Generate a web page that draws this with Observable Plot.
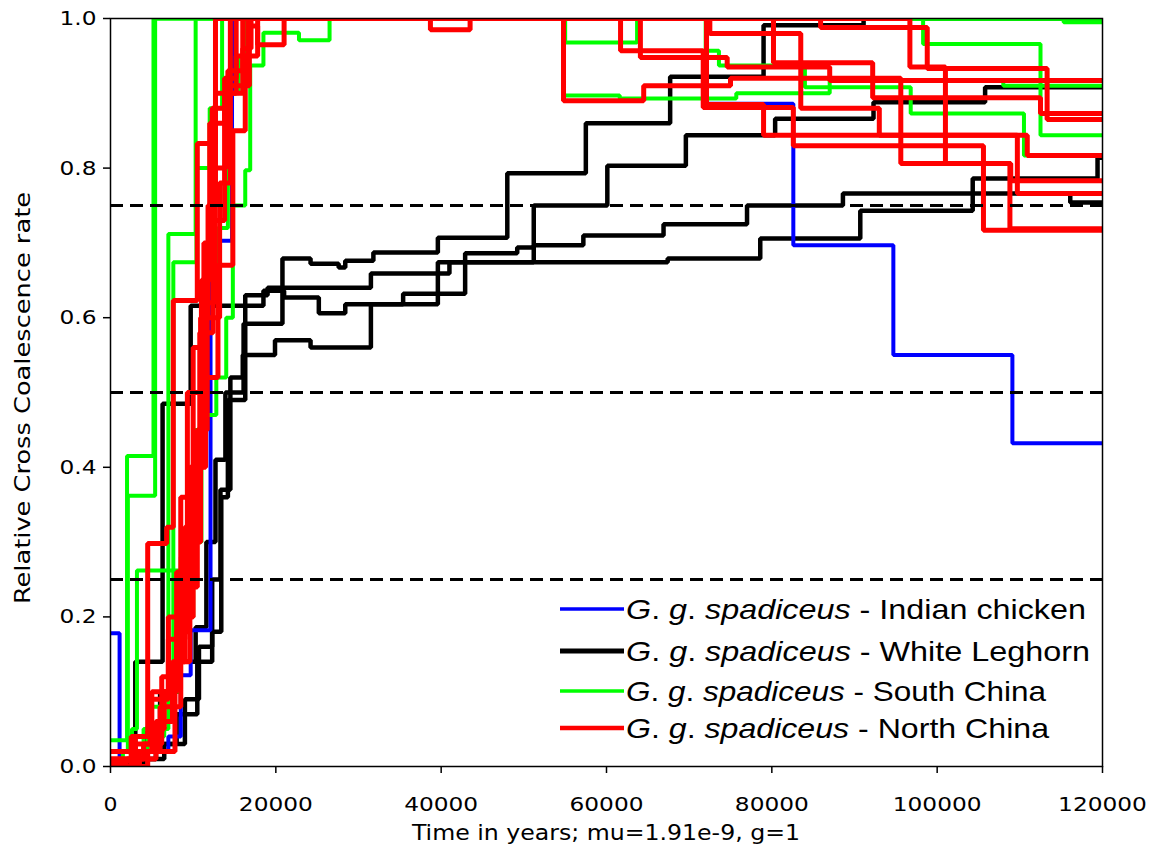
<!DOCTYPE html>
<html>
<head>
<meta charset="utf-8">
<script src="https://cdn.jsdelivr.net/npm/d3@7"></script>
<script src="https://cdn.jsdelivr.net/npm/@observablehq/plot@0.6"></script>
<style>
  body { margin: 0; background: #fff; }
  #chart { position: relative; width: 1164px; height: 852px; }
  #legend { position: absolute; left: 0; top: 0; pointer-events: none; }
</style>
</head>
<body>
<div id="chart"></div>
<script>
// Axis ticks and reference levels
const xTicks = [0, 20000, 40000, 60000, 80000, 100000, 120000];
const yTicks = [0, 0.2, 0.4, 0.6, 0.8, 1.0];
const thresholds = [0.25, 0.5, 0.75];
const tMax = 120000;

// Relative cross-coalescence rate step curves: [time in years, rate]
const indianChicken = [
  [[0,0.178],[1100,0.01],[4500,0.02],[7000,0.04],[8500,0.122],[9700,0.182],[12100,0.703],[14700,1.0],[72100,0.886],[82600,0.697],[94700,0.55],[109100,0.432]]
];

const whiteLeghorn = [
  [[0,0],[2400,0.01],[4200,0.05],[6000,0.10],[8500,0.14],[10300,0.186],[11600,0.30],[12700,0.41],[13900,0.50],[16100,0.592],[20800,0.679],[24200,0.672],[27600,0.667],[28400,0.676],[31800,0.687],[39600,0.707],[48000,0.793],[57500,0.86],[67700,0.922],[79000,0.991],[91100,1.0]],
  [[0,0],[1500,0.005],[3000,0.14],[6300,0.485],[9700,0.616],[18500,0.636],[21000,0.627],[25200,0.606],[28400,0.618],[35400,0.632],[42900,0.686],[49200,0.694],[51200,0.75],[60100,0.803],[69600,0.844],[80400,0.866],[92300,0.888],[105800,0.908]],
  [[0,0],[3500,0.01],[5500,0.03],[8000,0.07],[10500,0.14],[12300,0.25],[13300,0.37],[14500,0.52],[16000,0.55],[19900,0.57],[24200,0.56],[31500,0.618],[39600,0.674],[51200,0.697],[57200,0.71],[66900,0.725],[77000,0.75],[88600,0.766],[116100,0.754]],
  [[0,0],[4000,0.01],[6500,0.03],[9000,0.09],[10700,0.16],[12300,0.18],[13400,0.36],[14200,0.49],[16300,0.63],[19000,0.64],[31500,0.659],[41000,0.674],[67400,0.679],[78600,0.706],[90700,0.743],[104300,0.786],[119400,0.814]]
];

const southChina = [
  [[0,0.035],[2000,0.415],[5200,1.0],[115300,0.995]],
  [[0,0.02],[2100,0.362],[5400,1.0],[54800,0.897],[61600,0.893],[75700,0.9],[87000,0.917],[108000,0.91]],
  [[0,0],[1500,0.02],[4000,0.05],[7000,0.712],[10300,1.0],[55000,0.968],[63700,1.0],[72000,0.957],[73600,0.937],[84000,0.908],[96800,0.873],[110500,0.817]],
  [[0,0.01],[3000,0.03],[5000,0.08],[7600,0.674],[10400,0.80],[12000,0.88],[13500,1.0],[98300,0.966],[112500,0.844]],
  [[0,0],[2500,0.01],[4500,0.04],[6500,0.10],[8500,0.2],[10000,0.3],[11000,0.47],[12800,0.52],[14000,0.6],[14800,0.75],[16300,0.797],[16900,0.937],[18500,0.981],[22800,0.971],[26500,1.0]],
  [[0,0.01],[2600,0.05],[3200,0.262],[8500,0.28],[10000,0.45],[11500,0.52],[13000,0.72],[14200,0.9],[15500,0.95],[16500,1.0]]
];

const northChina = [
  [[0,0.005],[2000,0.01],[3000,0.04],[4500,0.298],[6800,0.32],[7600,0.623],[10500,0.833],[12700,1.0],[54800,0.89],[64500,0.91],[75000,0.92],[95600,0.806],[108900,0.783]],
  [[0,0],[2500,0.02],[5000,0.05],[6500,0.1],[8000,0.18],[9500,0.3],[10900,0.6],[11800,0.75],[12700,0.9],[14500,1.0],[61700,0.957],[71700,0.881],[82600,0.83],[105600,0.717]],
  [[0,0.01],[3000,0.03],[4800,0.09],[7000,0.2],[8500,0.36],[10000,0.56],[11300,0.7],[12300,0.88],[14200,0.93],[16000,1.0],[85900,0.988],[98800,0.933],[113300,0.865]],
  [[0,0],[3000,0.01],[5500,0.06],[7500,0.14],[9000,0.24],[10500,0.45],[11700,0.6],[13200,0.78],[14500,0.91],[16800,0.99],[17800,0.965],[21000,1.0],[64100,0.948],[74600,0.935],[87000,0.917]],
  [[0,0],[3500,0.02],[6000,0.08],[8500,0.2],[10000,0.4],[11200,0.62],[12600,0.8],[14000,0.9],[15200,0.95],[16600,1.0],[80200,0.941],[92200,0.894],[112500,0.873]],
  [[0,0.01],[4000,0.03],[6200,0.12],[8000,0.26],[9300,0.5],[11000,0.65],[12000,0.86],[13800,0.92],[15200,1.0],[72500,0.98],[83500,0.88],[93000,0.844],[110900,0.817]],
  [[0,0.02],[2500,0.04],[5000,0.1],[7000,0.17],[9000,0.32],[10800,0.58],[12400,0.73],[13800,0.9],[16000,0.96],[17000,1.0],[72100,0.885],[79000,0.844],[109700,0.766]],
  [[0,0],[4500,0.02],[7800,0.14],[9600,0.4],[11500,0.52],[13000,0.67],[14800,0.85],[16300,0.95],[17800,1.0],[38700,0.985],[43500,1.0],[96700,0.935],[101000,0.806],[108800,0.719]]
];

// Groups in drawing order (later groups sit on top)
const groups = [
  {key: "lgh", label: "White Leghorn", color: "#000000", width: 4.5, runs: whiteLeghorn},
  {key: "ind", label: "Indian chicken", color: "#0000ff", width: 4, runs: indianChicken},
  {key: "sch", label: "South China", color: "#00ff00", width: 4, runs: southChina},
  {key: "nch", label: "North China", color: "#ff0000", width: 5, runs: northChina}
];

// Legend order and sample line widths
const legendRows = [
  {label: "Indian chicken", color: "#0000ff", width: 3.5, textWidth: 460},
  {label: "White Leghorn", color: "#000000", width: 5, textWidth: 464},
  {label: "South China", color: "#00ff00", width: 3.5, textWidth: 420},
  {label: "North China", color: "#ff0000", width: 4.5, textWidth: 423}
];

// Flatten each run into rows, extending the last step to the right edge
function rowsFor(group) {
  const out = [];
  group.runs.forEach((run, i) => {
    const id = group.key + i;
    run.forEach(([t, v]) => out.push({id, t, v}));
    const last = run[run.length - 1];
    if (last[0] < tMax) out.push({id, t: tMax, v: last[1]});
  });
  return out;
}

const chart = Plot.plot({
  width: 1164,
  height: 852,
  marginLeft: 110,
  marginRight: 62,
  marginTop: 18,
  marginBottom: 86,
  style: {fontFamily: "DejaVu Sans", fontSize: "20px", color: "#000", background: "#fff"},
  x: {domain: [0, tMax], ticks: xTicks, tickFormat: d => String(d), tickSize: 7, tickPadding: 23, label: null},
  y: {domain: [0, 1], ticks: yTicks, tickFormat: d3.format(".1f"), tickSize: 7, tickPadding: 7, label: null},
  marks: [
    ...groups.map(g => Plot.line(rowsFor(g), {
      x: "t", y: "v", z: "id", curve: "step-after",
      stroke: g.color, strokeWidth: g.width, strokeLinejoin: "miter", clip: true
    })),
    Plot.ruleY(thresholds, {stroke: "#000", strokeWidth: 3, strokeDasharray: "13,7"}),
    Plot.frame({stroke: "#000", strokeWidth: 1.5})
  ]
});

const host = document.getElementById("chart");
host.appendChild(chart);

const svg = d3.select(chart);

// Tick labels
svg.selectAll('[aria-label^="x-axis"] text').each(function () {
  const s = this.textContent.trim();
  if (!/^\d+$/.test(s)) return;
  d3.select(this)
    .style("font-family", "DejaVu Sans")
    .style("font-size", "20px")
    .attr("textLength", s.length === 1 ? 14 : s.length * 14.8)
    .attr("lengthAdjust", "spacingAndGlyphs");
});
svg.selectAll('[aria-label^="y-axis"] text').each(function () {
  const s = this.textContent.trim();
  if (!/^\d\.\d$/.test(s)) return;
  d3.select(this)
    .style("font-family", "DejaVu Sans")
    .style("font-size", "20px")
    .attr("textLength", 37)
    .attr("lengthAdjust", "spacingAndGlyphs");
});
svg.selectAll('[aria-label^="x-axis"] path, [aria-label^="x-axis"] line, [aria-label^="y-axis"] path, [aria-label^="y-axis"] line')
  .attr("stroke-width", 1.5);

// Axis titles
svg.append("text")
  .attr("x", 606).attr("y", 840)
  .attr("text-anchor", "middle")
  .style("font-family", "'Liberation Sans Narrow', 'DejaVu Sans Condensed', 'Open Sans', sans-serif")
  .style("font-size", "22px")
  .attr("fill", "#000")
  .attr("textLength", 388).attr("lengthAdjust", "spacingAndGlyphs")
  .text("Time in years; mu=1.91e-9, g=1");

svg.append("text")
  .attr("transform", "translate(30,398) rotate(-90)")
  .attr("text-anchor", "middle")
  .style("font-family", "'Liberation Sans Narrow', 'DejaVu Sans Condensed', 'Open Sans', sans-serif")
  .style("font-size", "22px")
  .attr("fill", "#000")
  .attr("textLength", 412).attr("lengthAdjust", "spacingAndGlyphs")
  .text("Relative Cross Coalescence rate");

// Legend drawn over the lower right of the plot area
const legend = d3.select(host).append("svg")
  .attr("id", "legend")
  .attr("width", 1164).attr("height", 852);
const rowY = [609, 651, 691, 728];
legendRows.forEach((r, i) => {
  const y = rowY[i];
  legend.append("line")
    .attr("x1", 560).attr("x2", 624).attr("y1", y).attr("y2", y)
    .attr("stroke", r.color).attr("stroke-width", r.width);
  const t = legend.append("text")
    .attr("x", 626).attr("y", y + 10)
    .style("font-family", "'Liberation Sans', Arial, sans-serif")
    .style("font-size", "28px")
    .attr("fill", "#000")
    .attr("textLength", r.textWidth).attr("lengthAdjust", "spacingAndGlyphs");
  t.append("tspan").style("font-style", "italic").text("G");
  t.append("tspan").text(". ");
  t.append("tspan").style("font-style", "italic").text("g");
  t.append("tspan").text(". ");
  t.append("tspan").style("font-style", "italic").text("spadiceus");
  t.append("tspan").text(" - " + r.label);
});
</script>
</body>
</html>
